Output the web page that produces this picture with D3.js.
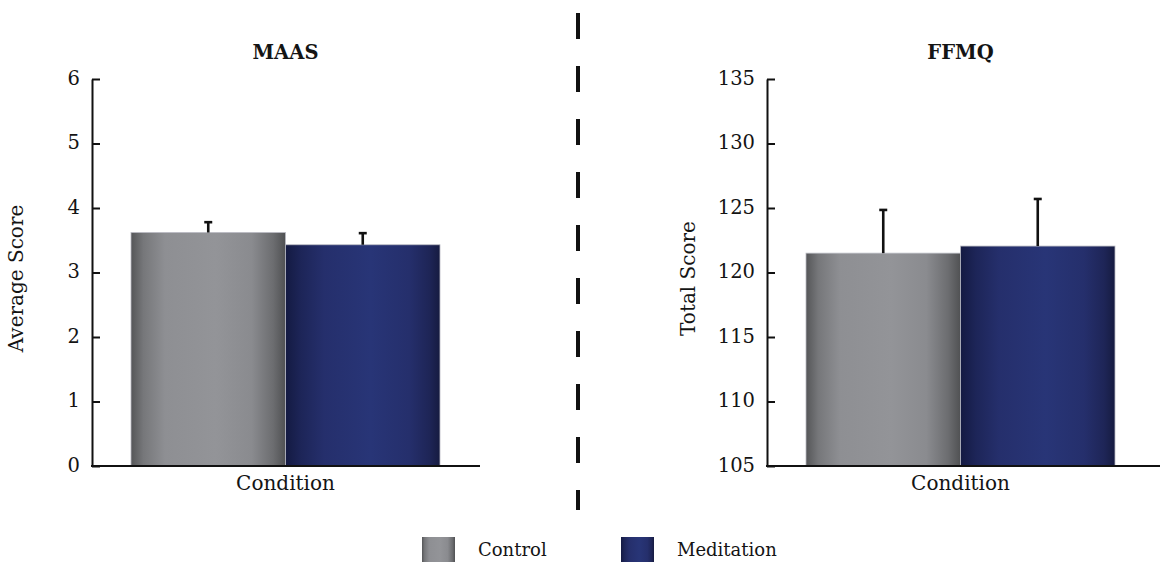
<!DOCTYPE html>
<html>
<head>
<meta charset="utf-8">
<script src="https://cdn.jsdelivr.net/npm/d3@7"></script>
<style>
  html, body { margin: 0; padding: 0; background: #fff; }
  svg { display: block; }
  text { font-family: "DejaVu Serif", "Liberation Serif", serif; fill: #141414; }
</style>
</head>
<body>
<svg id="chart" width="1160" height="572"></svg>
<script>
// Conditions compared in both panels
const categories = ["Control", "Meditation"];

// MAAS: mean score and standard error per condition
const maasMean = [3.62, 3.43];
const maasErr = [0.16, 0.18];
const maasTicks = [0, 1, 2, 3, 4, 5, 6];

// FFMQ: mean total score and standard error per condition
const ffmqMean = [121.5, 122.05];
const ffmqErr = [3.35, 3.65];
const ffmqTicks = [105, 110, 115, 120, 125, 130, 135];

const svg = d3.select("#chart");
const defs = svg.append("defs");

// Horizontal shading for the bars
function shade(id, stops) {
  const g = defs.append("linearGradient").attr("id", id)
    .attr("x1", "0%").attr("x2", "100%").attr("y1", "0%").attr("y2", "0%");
  stops.forEach(([o, c]) => g.append("stop").attr("offset", o).attr("stop-color", c));
}
shade("g-control", [["0%", "#555658"], ["8%", "#76777a"], ["22%", "#8e8f93"], ["55%", "#939498"], ["78%", "#8a8b8f"], ["92%", "#6c6d70"], ["100%", "#505153"]]);
shade("g-meditation", [["0%", "#141a42"], ["10%", "#1d2558"], ["25%", "#252f6c"], ["55%", "#283577"], ["80%", "#252f6c"], ["93%", "#1e2557"], ["100%", "#161b40"]]);
const fills = ["url(#g-control)", "url(#g-meditation)"];

const plotTop = 79, plotBottom = 466;

function panel(cfg) {
  const g = svg.append("g");
  const y = d3.scaleLinear().domain(cfg.domain).range([plotBottom, plotTop]);
  const x = d3.scaleBand().domain(categories).range(cfg.barRange).paddingInner(0).paddingOuter(0);

  // bars
  g.selectAll("rect.bar").data(categories).join("rect")
    .attr("class", "bar")
    .attr("x", d => x(d))
    .attr("width", x.bandwidth())
    .attr("y", (d, i) => y(cfg.mean[i]))
    .attr("height", (d, i) => y(cfg.domain[0]) - y(cfg.mean[i]))
    .attr("fill", (d, i) => fills[i])
    .attr("stroke", "#b9bac2")
    .attr("stroke-width", 0.8);

  // upper error bars
  const eb = g.selectAll("g.err").data(categories).join("g").attr("class", "err");
  eb.append("line")
    .attr("x1", d => x(d) + x.bandwidth() / 2)
    .attr("x2", d => x(d) + x.bandwidth() / 2)
    .attr("y1", (d, i) => y(cfg.mean[i]))
    .attr("y2", (d, i) => y(cfg.mean[i] + cfg.err[i]))
    .attr("stroke", "#111").attr("stroke-width", 2.6);
  eb.append("line")
    .attr("x1", d => x(d) + x.bandwidth() / 2 - 4)
    .attr("x2", d => x(d) + x.bandwidth() / 2 + 4)
    .attr("y1", (d, i) => y(cfg.mean[i] + cfg.err[i]))
    .attr("y2", (d, i) => y(cfg.mean[i] + cfg.err[i]))
    .attr("stroke", "#111").attr("stroke-width", 2.6);

  // y axis with inward ticks
  const ax = g.append("g")
    .attr("transform", `translate(${cfg.axisX},0)`)
    .call(d3.axisLeft(y).tickValues(cfg.ticks).tickSizeInner(-8).tickSizeOuter(0).tickPadding(12).tickFormat(d3.format("d")));
  ax.select(".domain").attr("stroke", "#111").attr("stroke-width", 2);
  ax.selectAll(".tick line").attr("stroke", "#111").attr("stroke-width", 2);
  ax.selectAll(".tick text")
    .style("font-family", '"DejaVu Serif", serif')
    .style("font-size", "19.5px").attr("fill", "#141414").attr("dy", "0.28em");

  // baseline
  g.append("line")
    .attr("x1", cfg.axisX - 1).attr("x2", cfg.baseEnd)
    .attr("y1", y(cfg.domain[0])).attr("y2", y(cfg.domain[0]))
    .attr("stroke", "#111").attr("stroke-width", 2);

  const cx = (cfg.barRange[0] + cfg.barRange[1]) / 2;
  g.append("text").attr("x", cx).attr("y", 59).attr("text-anchor", "middle")
    .style("font-size", "19.5px").style("font-weight", "bold").text(cfg.title);
  g.append("text").attr("x", cx).attr("y", 490).attr("text-anchor", "middle")
    .style("font-size", "20px").text("Condition");
  g.append("text")
    .attr("transform", `translate(${cfg.labelX},${(plotTop + plotBottom) / 2 + 6}) rotate(-90)`)
    .attr("text-anchor", "middle").attr("dy", "0.35em")
    .style("font-size", "20px").text(cfg.yLabel);
}

panel({ title: "MAAS", yLabel: "Average Score", domain: [0, 6], ticks: maasTicks,
        mean: maasMean, err: maasErr, barRange: [131, 440], axisX: 92, baseEnd: 480, labelX: 16 });
panel({ title: "FFMQ", yLabel: "Total Score", domain: [105, 135], ticks: ffmqTicks,
        mean: ffmqMean, err: ffmqErr, barRange: [806, 1115], axisX: 767, baseEnd: 1160, labelX: 688 });

// dashed divider between the two panels
svg.append("line")
  .attr("x1", 578).attr("x2", 578).attr("y1", 13).attr("y2", 510)
  .attr("stroke", "#111").attr("stroke-width", 4)
  .attr("stroke-dasharray", "26 27");

// legend
const legend = svg.append("g").selectAll("g").data(categories).join("g")
  .attr("transform", (d, i) => `translate(${[422, 621][i]},537)`);
legend.append("rect").attr("width", 33).attr("height", 25).attr("fill", (d, i) => fills[i]);
legend.append("text").attr("x", 56).attr("y", 19).style("font-size", "18px").text(d => d);
</script>
</body>
</html>
